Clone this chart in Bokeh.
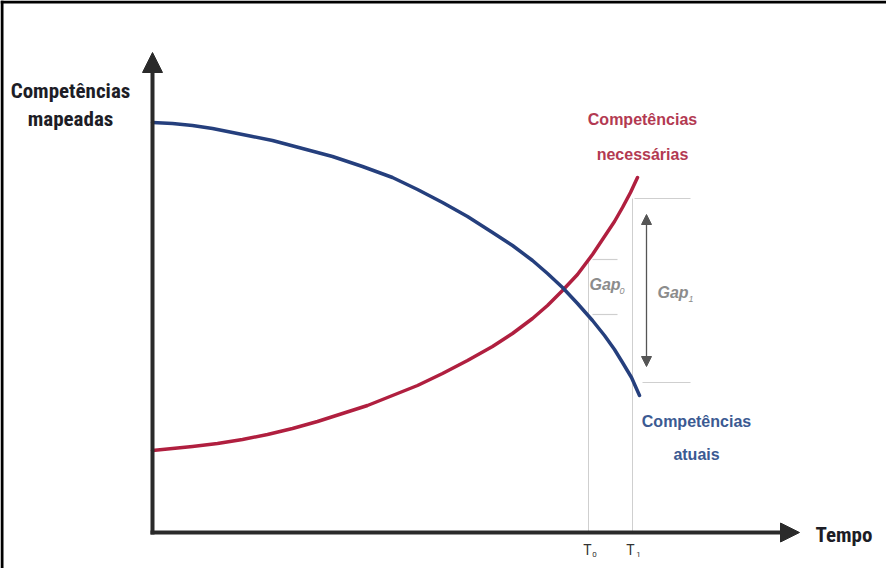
from bokeh.plotting import figure
from bokeh.models import Range1d, Arrow, NormalHead, Span
from bokeh.core.properties import value
from bokeh.embed import file_html
from bokeh.resources import INLINE

# ---- data (time on x, mapped competences on y) ----
time_atuais = [0, 20, 40, 60, 80, 100, 120, 150, 180, 210, 240, 265, 290, 315, 340, 360,
               380, 395, 410, 425, 440, 452, 462, 470, 479, 487]
comp_atuais = [410, 409, 407, 404, 400, 396, 392, 384, 376, 366, 355, 343, 330, 316, 300, 287,
               272, 259, 245, 229, 212, 197, 183, 170, 155, 137]

time_necessarias = [0, 20, 40, 65, 90, 115, 140, 165, 190, 215, 240, 265, 290, 315, 340, 360,
                    380, 395, 410, 425, 440, 452, 462, 470, 478, 485]
comp_necessarias = [82, 84, 86, 89, 93, 98, 104, 111, 119, 127, 137, 147, 159, 172, 186, 199,
                    214, 227, 242, 258, 278, 296, 311, 325, 340, 355]

t0 = 436
t1 = 480
gap0 = [218, 273]   # low, high at T0
gap1 = [150, 334]   # low, high at T1

time_max = 647
comp_max = 480

y_label = ["Competências", "mapeadas"]
x_label = "Tempo"
lbl_necessarias = ["Competências", "necessárias"]
lbl_atuais = ["Competências", "atuais"]

# ---- figure ----
p = figure(width=886, height=568, x_range=Range1d(-152, 734), y_range=Range1d(-36, 532),
           output_backend="svg", toolbar_location=None, min_border=0,
           x_axis_location=None, y_axis_location=None)
p.grid.visible = False
p.outline_line_color = None
p.background_fill_color = "white"
p.border_fill_color = "white"

# frame border (top and left)
p.add_layout(Span(location=530.5, dimension="width", line_color="black", line_width=3))
p.add_layout(Span(location=-150.5, dimension="height", line_color="black", line_width=3))

narrow = value("'Liberation Sans Narrow', 'Roboto Condensed', Roboto")
sans = value("'Liberation Sans', Arial, Roboto")

# guide lines
gray = "#cfcfcf"
p.segment(x0=[t0, t1], y0=[0, 0], x1=[t0, t1], y1=[gap0[1] - 2, gap1[1]], line_color=gray, line_width=1)
p.segment(x0=[t0 + 4, t0 + 4], y0=gap0, x1=[t0 + 29, t0 + 29], y1=gap0, line_color=gray, line_width=1.2)
p.segment(x0=[t1 + 2, t1 + 10], y0=[gap1[1], gap1[0]], x1=[t1 + 58, t1 + 58], y1=[gap1[1], gap1[0]],
          line_color=gray, line_width=1.2)

# gap1 double arrow
p.add_layout(Arrow(start=NormalHead(size=10, fill_color="#555555", line_color="#555555"),
                   end=NormalHead(size=10, fill_color="#555555", line_color="#555555"),
                   x_start=t1 + 14, y_start=gap1[0] + 16, x_end=t1 + 14, y_end=gap1[1] - 16,
                   line_color="#555555", line_width=1.3))

# curves
p.line(time_necessarias, comp_necessarias, line_color="#b01f3f", line_width=3.5, line_join="round", line_cap="round")
p.line(time_atuais, comp_atuais, line_color="#253f7d", line_width=3.5, line_join="round", line_cap="round")

# axes with arrows
axis_col = "#2a2a2a"
p.add_layout(Arrow(end=NormalHead(size=20, fill_color=axis_col, line_color=axis_col),
                   x_start=0, y_start=-2, x_end=0, y_end=comp_max,
                   line_color=axis_col, line_width=4))
p.add_layout(Arrow(end=NormalHead(size=19, fill_color=axis_col, line_color=axis_col),
                   x_start=-2, y_start=0, x_end=time_max, y_end=0,
                   line_color=axis_col, line_width=4))

# axis labels
p.text(x=[-82, -82], y=[442, 414], text=y_label, text_font=narrow, text_font_style="bold",
       text_font_size="21px", text_color="#1d1d26", text_align="center", text_baseline="middle")
p.text(x=[663], y=[-2], text=[x_label], text_font=narrow, text_font_style="bold",
       text_font_size="21px", text_color="#1d1d26", text_align="left", text_baseline="middle")

# curve labels
p.text(x=[490, 490], y=[413, 378], text=lbl_necessarias, text_font=sans, text_font_style="bold",
       text_font_size="16px", text_color="#b33a52", text_align="center", text_baseline="middle")
p.text(x=[544, 544], y=[111, 78], text=lbl_atuais, text_font=sans, text_font_style="bold",
       text_font_size="16px", text_color="#3b5a92", text_align="center", text_baseline="middle")

# gap labels
p.text(x=[t0 + 1, t1 + 25], y=[248, 240], text=["Gap", "Gap"], text_font=sans, text_font_style="bold italic",
       text_font_size="16px", text_color="#8c8c8c", text_align="left", text_baseline="middle")
p.text(x=[t0 + 31, t1 + 56], y=[242, 234], text=["0", "1"], text_font=sans, text_font_style="italic",
       text_font_size="9px", text_color="#8c8c8c", text_align="left", text_baseline="middle")

# T labels
p.text(x=[t0 - 1, t1 - 2], y=[-17, -17], text=["T", "T"], text_font=value("Roboto"),
       text_font_size="14px", text_color="#333333", text_align="center", text_baseline="middle")
p.text(x=[t0 + 6, t1 + 6], y=[-22, -22], text=["0", "1"], text_font=value("Roboto"),
       text_font_size="8px", text_color="#333333", text_align="center", text_baseline="middle")

open("out.html", "w").write(file_html(p, INLINE))
